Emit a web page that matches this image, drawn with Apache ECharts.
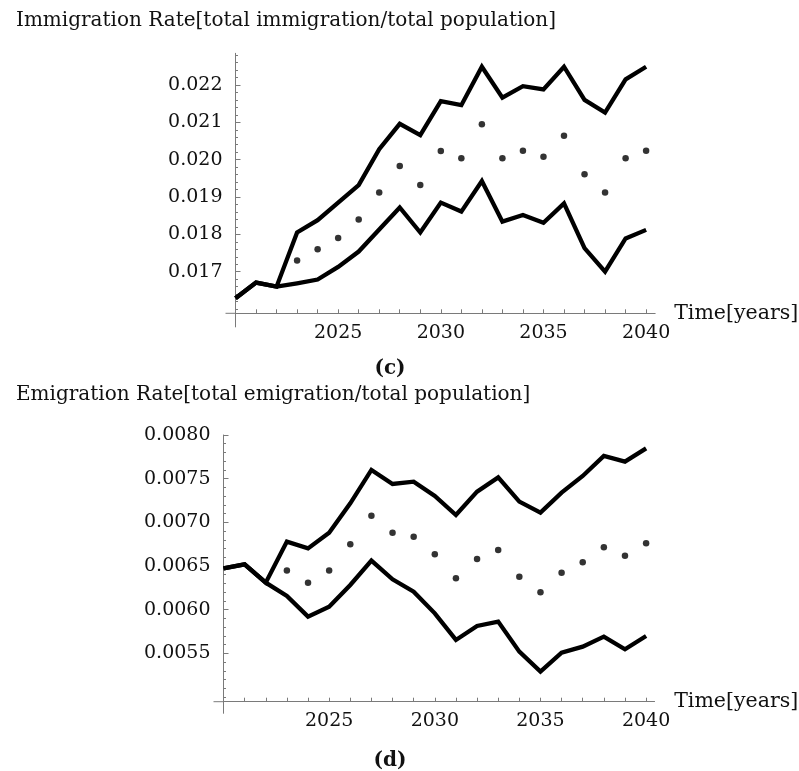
<!DOCTYPE html>
<html>
<head>
<meta charset="utf-8">
<script src="https://cdn.jsdelivr.net/npm/echarts@6/dist/echarts.min.js"></script>
<style>
html, body { margin: 0; padding: 0; background: #fff; }
#main { width: 799px; height: 771px; }
</style>
</head>
<body>
<div id="main"></div>
<script>
// years on the x axis
var years = [2020, 2021, 2022, 2023, 2024, 2025, 2026, 2027, 2028, 2029, 2030,
             2031, 2032, 2033, 2034, 2035, 2036, 2037, 2038, 2039, 2040];

// (c) immigration rate: upper / lower bound lines and mean dots
var immUpper = [0.01629, 0.01671, 0.01660, 0.01805, 0.01838, 0.01885, 0.01932, 0.02028, 0.02096, 0.02066, 0.02157,
                0.02146, 0.02249, 0.02166, 0.02197, 0.02188, 0.02249, 0.02160, 0.02126, 0.02215, 0.02249];
var immLower = [0.01629, 0.01671, 0.01660, 0.01669, 0.01679, 0.01713, 0.01754, 0.01813, 0.01872, 0.01805, 0.01885,
                0.01861, 0.01943, 0.01834, 0.01852, 0.01831, 0.01883, 0.01763, 0.01700, 0.01789, 0.01812];
var immMid = [null, null, null, 0.01730, 0.01760, 0.01790, 0.01840, 0.01912, 0.01983, 0.01932, 0.02023,
              0.02004, 0.02095, 0.02004, 0.02024, 0.02008, 0.02064, 0.01961, 0.01912, 0.02004, 0.02024];

// (d) emigration rate
var emiUpper = [0.006473, 0.006519, 0.006309, 0.006779, 0.006702, 0.006882, 0.007218, 0.007600, 0.007439, 0.007466, 0.007302,
                0.007084, 0.007351, 0.007515, 0.007237, 0.007111, 0.007340, 0.007531, 0.007760, 0.007695, 0.007847];
var emiLower = [0.006473, 0.006519, 0.006309, 0.006156, 0.005920, 0.006034, 0.006282, 0.006561, 0.006347, 0.006206, 0.005958,
                0.005653, 0.005813, 0.005863, 0.005519, 0.005290, 0.005508, 0.005576, 0.005691, 0.005546, 0.005698];
var emiMid = [null, null, null, 0.006447, 0.006309, 0.006447, 0.006748, 0.007076, 0.006882, 0.006836, 0.006634,
              0.006359, 0.006580, 0.006683, 0.006378, 0.006198, 0.006424, 0.006542, 0.006714, 0.006618, 0.006760];

// tick labels
var yearLabels = [2025, 2030, 2035, 2040];
var immTicks = [0.017, 0.018, 0.019, 0.020, 0.021, 0.022];
var emiTicks = [0.0055, 0.0060, 0.0065, 0.0070, 0.0075, 0.0080];

var FONT = 'DejaVu Serif';
var AXIS_COLOR = '#7a7a7a';

// minor ticks: every year on x, 5 per major step on y
var yearTicks = years.slice(1);
function minorTicks(from, to, step) {
    var out = [];
    var n = Math.round((to - from) / step);
    for (var i = 0; i <= n; i++) {
        out.push(+(from + i * step).toFixed(6));
    }
    return out;
}
var immMinor = minorTicks(0.0160, 0.0228, 0.0002);
var emiMinor = minorTicks(0.0050, 0.0080, 0.0001);

function pairs(xs, ys) {
    var out = [];
    for (var i = 0; i < xs.length; i++) {
        if (ys[i] != null) out.push([xs[i], ys[i]]);
    }
    return out;
}

function xAxisFor(grid, max) {
    return {
        gridIndex: grid,
        type: 'value',
        min: 2020,
        max: max,
        name: 'Time[years]',
        nameLocation: 'end',
        nameGap: 10,
        nameTextStyle: { fontFamily: FONT, fontSize: 20.5, color: '#111', verticalAlign: 'middle' },
        axisLine: { onZero: false, lineStyle: { color: AXIS_COLOR, width: 1 } },
        axisTick: { inside: true, length: 4, customValues: yearTicks, lineStyle: { color: AXIS_COLOR } },
        axisLabel: {
            customValues: yearLabels, fontFamily: FONT, fontSize: 19, color: '#111', margin: 10,
            formatter: function (v) { return String(v); }
        },
        splitLine: { show: false }
    };
}

function yAxisFor(grid, min, max, ticks, digits) {
    return {
        gridIndex: grid,
        type: 'value',
        position: 'left',
        min: min,
        max: max,
        axisLine: { onZero: false, lineStyle: { color: AXIS_COLOR, width: 1 } },
        axisTick: { inside: true, length: 5, customValues: ticks, lineStyle: { color: AXIS_COLOR } },
        axisLabel: {
            customValues: ticks, fontFamily: FONT, fontSize: 19, color: '#111', margin: 13,
            formatter: function (v) { return v.toFixed(digits); }
        },
        splitLine: { show: false }
    };
}

function yMinorFor(grid, min, max, ticks) {
    return {
        gridIndex: grid,
        type: 'value',
        position: 'left',
        min: min,
        max: max,
        axisLine: { show: false },
        axisTick: { inside: true, length: 2.5, customValues: ticks, lineStyle: { color: AXIS_COLOR } },
        axisLabel: { show: false },
        splitLine: { show: false }
    };
}

function bandLine(name, xi, yi, data) {
    return {
        name: name,
        type: 'line',
        xAxisIndex: xi,
        yAxisIndex: yi,
        data: pairs(years, data),
        showSymbol: false,
        silent: true,
        lineStyle: { color: '#000', width: 4.3, join: 'miter' },
        z: 3
    };
}

function dots(name, xi, yi, data) {
    return {
        name: name,
        type: 'scatter',
        xAxisIndex: xi,
        yAxisIndex: yi,
        data: pairs(years, data),
        symbolSize: 6.5,
        itemStyle: { color: '#000' },
        silent: true,
        z: 4
    };
}

var IMM_MIN = 0.015886, IMM_MAX = 0.022849;
var EMI_MIN = 0.004946, EMI_MAX = 0.0080;

var option = {
    animation: false,
    backgroundColor: '#fff',
    grid: [
        { left: 235.5, right: 132.3, top: 53.3, height: 260 },
        { left: 223.5, right: 132.3, top: 435, height: 266.7 }
    ],
    xAxis: [xAxisFor(0, 2040.44), xAxisFor(1, 2040.4)],
    yAxis: [
        yAxisFor(0, IMM_MIN, IMM_MAX, immTicks, 3),
        yMinorFor(0, IMM_MIN, IMM_MAX, immMinor),
        yAxisFor(1, EMI_MIN, EMI_MAX, emiTicks, 4),
        yMinorFor(1, EMI_MIN, EMI_MAX, emiMinor)
    ],
    series: [
        bandLine('Immigration upper', 0, 0, immUpper),
        bandLine('Immigration lower', 0, 0, immLower),
        dots('Immigration mean', 0, 0, immMid),
        bandLine('Emigration upper', 1, 2, emiUpper),
        bandLine('Emigration lower', 1, 2, emiLower),
        dots('Emigration mean', 1, 2, emiMid)
    ]
};

var chart = echarts.init(document.getElementById('main'), null, { renderer: 'canvas' });
chart.setOption(option);

// axis captions, panel letters and the small axis overhang past the origin
function overhang(gridIndex, yMin, left, down) {
    var o = chart.convertToPixel({ gridIndex: gridIndex }, [2020, yMin]);
    var st = { stroke: AXIS_COLOR, lineWidth: 1 };
    return [
        { type: 'line', shape: { x1: o[0] - left, y1: o[1], x2: o[0], y2: o[1] }, style: st, silent: true },
        { type: 'line', shape: { x1: o[0], y1: o[1], x2: o[0], y2: o[1] + down }, style: st, silent: true }
    ];
}

function caption(text, x, y, align, bold) {
    return {
        type: 'text',
        x: x,
        y: y,
        silent: true,
        style: {
            text: text,
            fill: '#111',
            font: (bold ? 'bold ' : '') + '20px "' + FONT + '"',
            align: align,
            verticalAlign: 'middle'
        }
    };
}

chart.setOption({
    graphic: [].concat(
        overhang(0, IMM_MIN, 10, 14),
        overhang(1, EMI_MIN, 10, 12),
        [
            caption('Immigration Rate[total immigration/total population]', 16, 21, 'left'),
            caption('(c)', 390, 369, 'center', true),
            caption('Emigration Rate[total emigration/total population]', 16, 395, 'left'),
            caption('(d)', 390, 761, 'center', true)
        ]
    )
});
</script>
</body>
</html>
